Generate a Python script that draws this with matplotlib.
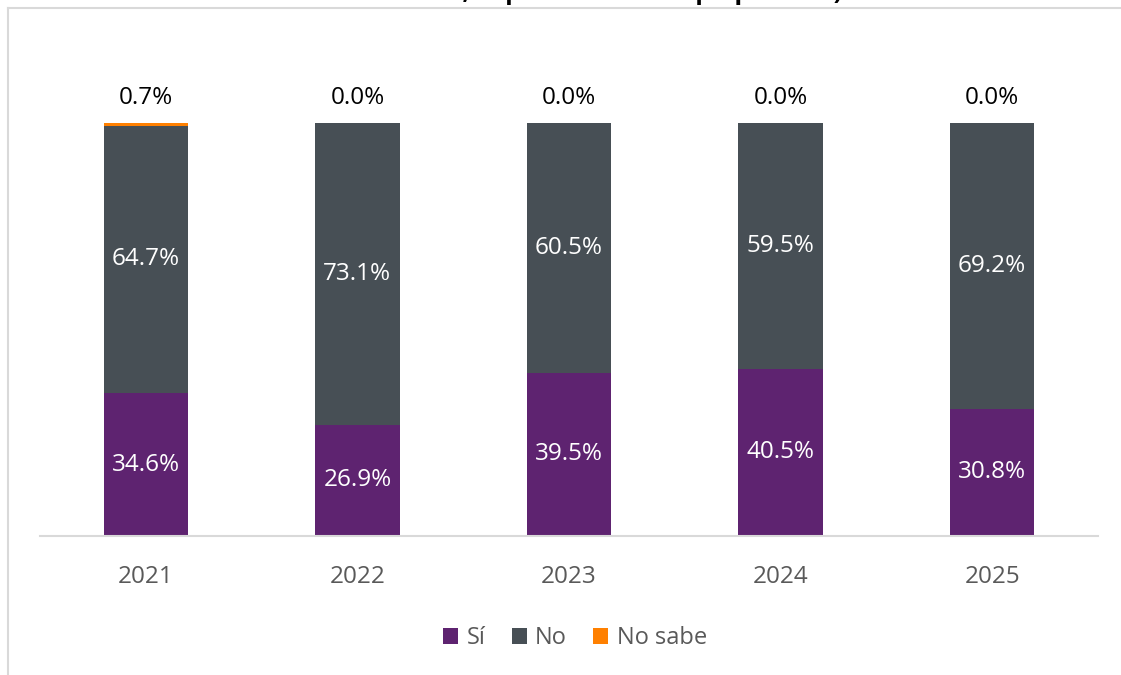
import matplotlib
matplotlib.use("Agg")
import matplotlib.pyplot as plt
from matplotlib.lines import Line2D
from matplotlib.patches import Patch

plt.rcParams['font.family'] = ['Open Sans', 'DejaVu Sans']

years = ["2021", "2022", "2023", "2024", "2025"]
si = [34.6, 26.9, 39.5, 40.5, 30.8]
no = [64.7, 73.1, 60.5, 59.5, 69.2]
no_sabe = [0.7, 0.0, 0.0, 0.0, 0.0]
series_names = ["Sí", "No", "No sabe"]
title_text = "restaurantes, súper o su casa o paquetería)"

c_si = "#5E2370"
c_no = "#474F55"
c_ns = "#FF8000"

W, H = 1121, 675
fig = plt.figure(figsize=(W / 100, H / 100), dpi=100)

# outer chart-area border (partially visible)
fig.add_artist(Line2D([7.5 / W, 7.5 / W], [0, 1 - 7.5 / H], transform=fig.transFigure,
                      color="#D9D9D9", lw=1.5))
fig.add_artist(Line2D([7.5 / W, 1], [1 - 7.5 / H, 1 - 7.5 / H], transform=fig.transFigure,
                      color="#D9D9D9", lw=1.5))

# clipped title (only its lower edge is visible, as in the reference)
fig.text(572 / W, 1 + 1.5 / H, title_text, ha="center", va="baseline",
         fontsize=18, fontweight="bold", color="#000000")

ax = fig.add_axes([40 / W, 1 - 536 / H, (1098 - 40) / W, (536 - 123) / H])
x = list(range(len(years)))
bw = 0.398
bottom_no = si
bottom_ns = [a + b for a, b in zip(si, no)]
ax.bar(x, si, width=bw, color=c_si, zorder=2)
ax.bar(x, no, width=bw, bottom=bottom_no, color=c_no, zorder=2)
ax.bar(x, no_sabe, width=bw, bottom=bottom_ns, color=c_ns, zorder=2)

fs = 17.5
for i in x:
    ax.text(i, si[i] / 2, f"{si[i]:.1f}%", ha="center", va="center",
            color="white", fontsize=fs)
    ax.text(i, si[i] + no[i] / 2, f"{no[i]:.1f}%", ha="center", va="center",
            color="white", fontsize=fs)
    top = si[i] + no[i] + no_sabe[i]
    ax.text(i, top + 6.0, f"{no_sabe[i]:.1f}%", ha="center", va="center",
            color="#000000", fontsize=fs, clip_on=False)

ax.set_xlim(-0.5, len(years) - 0.5)
ax.set_ylim(0, 100)
ax.set_xticks(x)
ax.set_xticklabels(years, fontsize=fs, color="#595959")
ax.tick_params(axis="x", length=0, pad=21)
ax.set_yticks([])
for s in ["top", "right", "left"]:
    ax.spines[s].set_visible(False)
ax.spines["bottom"].set_color("#D9D9D9")
ax.spines["bottom"].set_linewidth(1.5)
ax.spines["bottom"].set_zorder(3)

handles = [Patch(facecolor=c, edgecolor="none") for c in (c_si, c_no, c_ns)]
fig.legend(handles, series_names, loc="center", bbox_to_anchor=(575 / W, 1 - 638 / H),
           ncol=3, frameon=False, fontsize=17, labelcolor="#595959",
           handlelength=0.65, handleheight=0.65, handletextpad=0.35, columnspacing=1.1)

fig.savefig("out.png", dpi=100, facecolor="white")
